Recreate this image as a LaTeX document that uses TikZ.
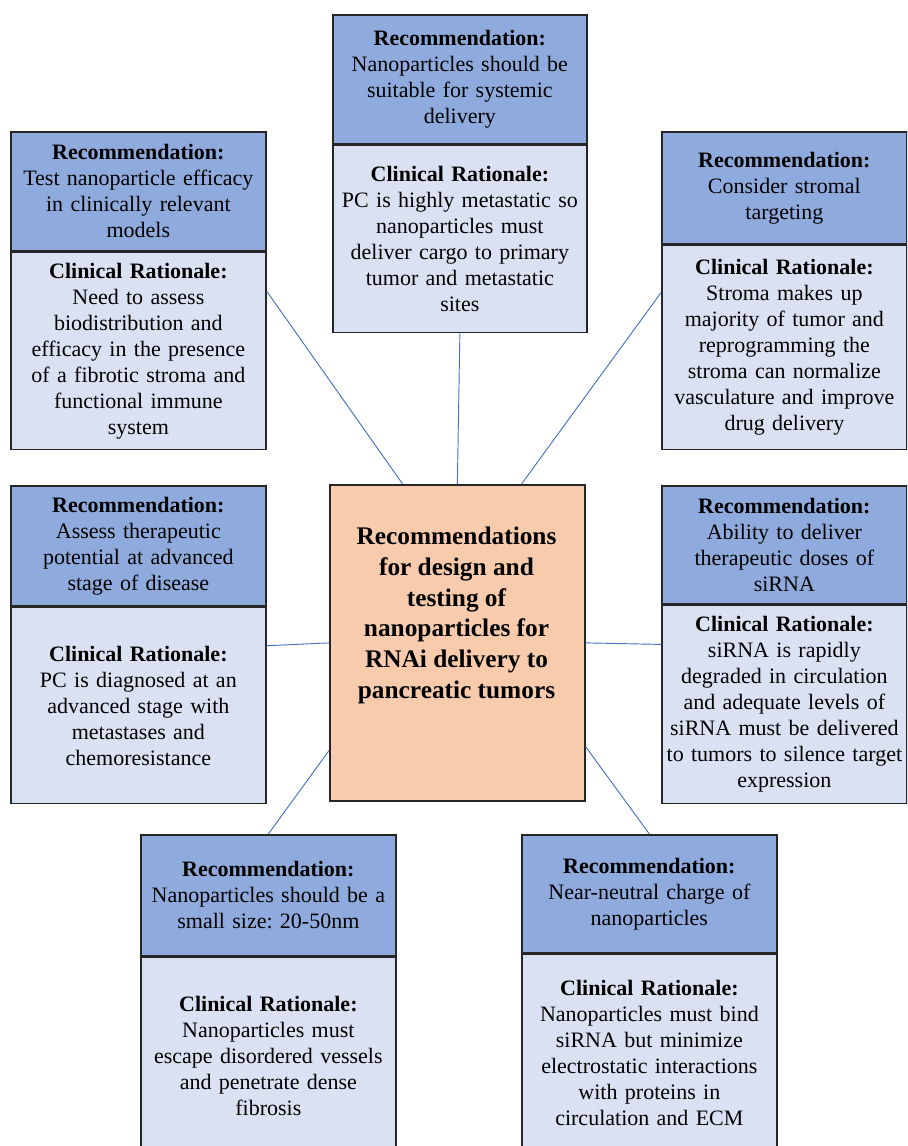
\documentclass[tikz,border=0pt]{standalone}
\usepackage{fontspec}
\setmainfont{Liberation Serif}
\usetikzlibrary{positioning}
\frenchspacing
\definecolor{headblue}{HTML}{8FAADC}
\definecolor{bodyblue}{HTML}{DAE1F2}
\definecolor{hubpeach}{HTML}{F8CBAD}
\definecolor{linkblue}{HTML}{4472C4}
\begin{document}
\begin{tikzpicture}[x=0.75pt, y=-0.75pt,
    every node/.style={align=center, inner sep=0pt, font=\fontsize{16.5}{19.5}\selectfont},
    head/.style={draw=black!85, line width=1.3pt, fill=headblue, text width=#1, anchor=north west},
    head/.default=191.25pt,
    body/.style={draw=black!85, line width=1.3pt, fill=bodyblue, text width=#1},
    body/.default=191.25pt,
    hub/.style={draw=black!85, line width=1.3pt, fill=hubpeach, minimum width=191.25pt,
        minimum height=237pt, anchor=north west},
    hubtitle/.style={font=\fontsize{19}{23}\selectfont\bfseries},
    link/.style={draw=linkblue, line width=0.7pt}]
\clip (0,0) rectangle (907,1146);

\node[hub] (hub) at (329,484) {};
\node[hubtitle] (title) at (456.5,615.5) {Recommendations\\ for design and\\ testing of\\ nanoparticles for\\ RNAi delivery to\\ pancreatic tumors};

\node[head, minimum height=89.25pt] (tlh) at (10,131)
    {\textbf{Recommendation:}\\ Test nanoparticle efficacy\\ in clinically relevant\\ models};
\node[body, minimum height=147.75pt, below=0pt of tlh] (tlb)
    {\textbf{Clinical Rationale:}\\ Need to assess\\ biodistribution and\\ efficacy in the presence\\ of a fibrotic stroma and\\ functional immune\\ system};

\node[head=190.5pt, minimum height=96.75pt] (tch) at (332,14)
    {\textbf{Recommendation:}\\ Nanoparticles should be\\ suitable for systemic\\ delivery};
\node[body=190.5pt, minimum height=140.25pt, below=0pt of tch] (tcb)
    {\textbf{Clinical Rationale:}\\ PC is highly metastatic so\\ nanoparticles must\\ deliver cargo to primary\\ tumor and metastatic\\ sites};

\node[head=183.75pt, minimum height=84pt] (trh) at (661,131)
    {\textbf{Recommendation:}\\ Consider stromal\\ targeting};
\node[body=183.75pt, minimum height=153pt, below=0pt of trh] (trb)
    {\textbf{Clinical Rationale:}\\ Stroma makes up\\ majority of tumor and\\ reprogramming the\\ stroma can normalize\\ vasculature and improve\\ drug delivery};

\node[head, minimum height=90pt] (mlh) at (10,485)
    {\textbf{Recommendation:}\\ Assess therapeutic\\ potential at advanced\\ stage of disease};
\node[body, minimum height=147pt, below=0pt of mlh] (mlb)
    {\textbf{Clinical Rationale:}\\ PC is diagnosed at an\\ advanced stage with\\ metastases and\\ chemoresistance};

\node[head=183.75pt, minimum height=88.5pt] (mrh) at (661,485)
    {\textbf{Recommendation:}\\ Ability to deliver\\ therapeutic doses of\\ siRNA};
\node[body=183.75pt, minimum height=148.5pt, below=0pt of mrh] (mrb)
    {\textbf{Clinical Rationale:}\\ siRNA is rapidly\\ degraded in circulation\\ and adequate levels of\\ siRNA must be delivered\\ to tumors to silence target\\ expression};

\node[head, minimum height=90.75pt] (blh) at (140,834)
    {\textbf{Recommendation:}\\ Nanoparticles should be a\\ small size: 20-50nm};
\node[body, minimum height=147pt, below=0pt of blh] (blb)
    {\textbf{Clinical Rationale:}\\ Nanoparticles must\\ escape disordered vessels\\ and penetrate dense\\ fibrosis};

\node[head, minimum height=88.5pt] (brh) at (521,834)
    {\textbf{Recommendation:}\\ Near-neutral charge of\\ nanoparticles};
\node[body, minimum height=147pt, below=0pt of brh] (brb)
    {\textbf{Clinical Rationale:}\\ Nanoparticles must bind\\ siRNA but minimize\\ electrostatic interactions\\ with proteins in\\ circulation and ECM};

\draw[link] (tlb.25) -- (hub.109);
\draw[link] (tcb.south) -- (hub.north);
\draw[link] (trb.156) -- (hub.68);
\draw[link] (mlb.25) -- (hub.west);
\draw[link] (mrb.154) -- (hub.east);
\draw[link] (hub.220) -- (blh.north);
\draw[link] (hub.321) -- (brh.north);
\end{tikzpicture}
\end{document}
